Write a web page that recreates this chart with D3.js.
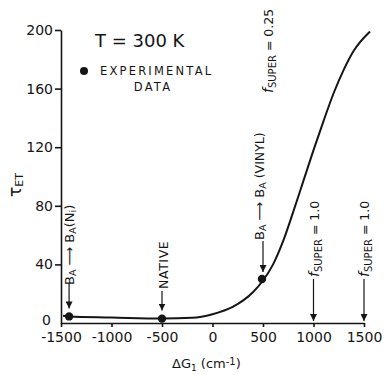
<!DOCTYPE html>
<html>
<head>
<meta charset="utf-8">
<script src="https://cdn.jsdelivr.net/npm/d3@7"></script>
<style>
  body { margin: 0; background: #fff; }
  svg { display: block; }
  text { font-family: "DejaVu Sans", sans-serif; fill: #151515; }
  .axis path, .axis line { stroke: #151515; stroke-width: 1.6; }
  .axis text { font-size: 14px; }
</style>
</head>
<body>
<div id="chart"></div>
<script>
// curve of tau_ET against dG1 (cm-1)
const curveDG = [-1480, -1420, -1000, -500, -200, 0, 200, 400, 500, 600, 700, 800, 900, 1000, 1100, 1200, 1300, 1400, 1560];
const curveTau = [5, 4.5, 3.8, 3, 3.5, 6, 11, 21, 29, 40, 56, 76, 97, 118, 138, 157, 173, 186, 199];

// experimental points
const expDG = [-1420, -500, 490];
const expTau = [4.5, 3, 30];

const xTicks = [-1500, -1000, -500, 0, 500, 1000, 1500];
const yTicks = [0, 40, 80, 120, 160, 200];

// arrow annotations: where they point
const pointerDG = [-1420, -500, 500, 1000, 1500];
const pointerTau = [4.5, 3, 30, 0, 0];

const width = 390, height = 375;
const svg = d3.select("#chart").append("svg")
    .attr("width", width)
    .attr("height", height);

const x = d3.scaleLinear().domain([-1500, 1500]).range([61, 364]);
const y = d3.scaleLinear().domain([0, 200]).range([323, 30]);

svg.append("g")
    .attr("class", "axis")
    .attr("transform", "translate(0," + y(0) + ")")
    .call(d3.axisBottom(x).tickValues(xTicks).tickSize(4).tickSizeOuter(0).tickPadding(5)
        .tickFormat(d => String(d)));

const yAxis = svg.append("g")
    .attr("class", "axis")
    .attr("transform", "translate(" + x(-1500) + ",0)")
    .call(d3.axisLeft(y).tickValues(yTicks).tickSize(6).tickSizeOuter(0).tickPadding(2)
        .tickFormat(d => String(d)));

// the zero label sits a little higher and further left in the original
yAxis.selectAll(".tick").filter(d => d === 0).select("line").remove();
yAxis.selectAll(".tick").filter(d => d === 0).select("text").attr("x", -10).attr("dy", "0.1em");

svg.selectAll(".axis .domain").attr("stroke-width", 1.8);

// curve
const line = d3.line()
    .x((d, i) => x(curveDG[i]))
    .y(d => y(d))
    .curve(d3.curveMonotoneX);

svg.append("path")
    .datum(curveTau)
    .attr("d", line)
    .attr("fill", "none")
    .attr("stroke", "#151515")
    .attr("stroke-width", 2);

svg.selectAll(".pt")
    .data(expTau)
    .join("circle")
    .attr("class", "pt")
    .attr("cx", (d, i) => x(expDG[i]))
    .attr("cy", d => y(d))
    .attr("r", 4.2)
    .attr("fill", "#151515");

// arrow head marker
svg.append("defs").append("marker")
    .attr("id", "head")
    .attr("viewBox", "0 0 10 10")
    .attr("refX", 10).attr("refY", 5)
    .attr("markerWidth", 7).attr("markerHeight", 7)
    .attr("markerUnits", "userSpaceOnUse")
    .attr("orient", "auto")
  .append("path")
    .attr("d", "M0,0 L10,5 L0,10 Z")
    .attr("fill", "#151515");

const stemTop = [283, 291, 241, 279, 279];
const tipGap = [8, 8, 7, 2, 2];
pointerDG.forEach((v, i) => {
    svg.append("line")
        .attr("x1", x(v)).attr("x2", x(v))
        .attr("y1", stemTop[i])
        .attr("y2", y(pointerTau[i]) - tipGap[i])
        .attr("stroke", "#151515")
        .attr("stroke-width", 1.2)
        .attr("marker-end", "url(#head)");
});

// rotated label helper: pieces [text, size, dy, italic]
function vlabel(cx, startY, pieces, spacing) {
    const t = svg.append("text")
        .attr("transform", "translate(" + cx + "," + startY + ") rotate(-90)")
        .attr("dominant-baseline", "central")
        .attr("letter-spacing", spacing || 0);
    pieces.forEach(p => {
        t.append("tspan")
            .attr("font-size", p[1])
            .attr("dy", p[2])
            .attr("font-style", p[3] ? "italic" : null)
            .text(p[0]);
    });
    return t;
}

vlabel(69, 285, [["B", 13, 0], ["A", 9.5, 3], [" \u27F6 ", 13, -3], ["B", 13, 0], ["A", 9.5, 3], ["(N", 13, -3], ["i", 9.5, 3], [")", 13, -3]]);
vlabel(163, 289, [["NATIVE", 12.5, 0]], 0.6);
vlabel(259, 240, [["B", 13, 0], ["A", 9.5, 3], [" \u27F6 ", 13, -3], ["B", 13, 0], ["A", 9.5, 3], [" (VINYL)", 12.5, -3]]);
vlabel(268, 93, [["f", 14, 0, true], ["SUPER", 10, 4], [" = 0.25", 12.5, -4]]);
vlabel(314, 277, [["f", 14, 0, true], ["SUPER", 10, 4], [" = 1.0", 12.5, -4]]);
vlabel(364, 277, [["f", 14, 0, true], ["SUPER", 10, 4], [" = 1.0", 12.5, -4]]);

// y axis title
vlabel(15, 197, [["\u03C4", 17, 0], ["ET", 11, 4]]);

// x axis title
const xt = svg.append("text")
    .attr("x", 172).attr("y", 368)
    .attr("font-size", 13);
xt.append("tspan").text("\u0394G");
xt.append("tspan").attr("font-size", 9).attr("dy", 3).text("1");
xt.append("tspan").attr("dy", -3).text(" (cm");
xt.append("tspan").attr("font-size", 10).attr("dy", -3).text("-1");
xt.append("tspan").attr("dy", 3).text(")");

// legend
svg.append("text")
    .attr("x", 95).attr("y", 47)
    .attr("font-size", 18)
    .text("T = 300 K");

svg.append("circle")
    .attr("cx", 84).attr("cy", 71)
    .attr("r", 4)
    .attr("fill", "#151515");

svg.append("text")
    .attr("x", 100).attr("y", 75)
    .attr("font-size", 11.5)
    .attr("letter-spacing", 2.2)
    .text("EXPERIMENTAL");

svg.append("text")
    .attr("x", 153).attr("y", 91)
    .attr("font-size", 11.5)
    .attr("letter-spacing", 2.2)
    .attr("text-anchor", "middle")
    .text("DATA");
</script>
</body>
</html>
